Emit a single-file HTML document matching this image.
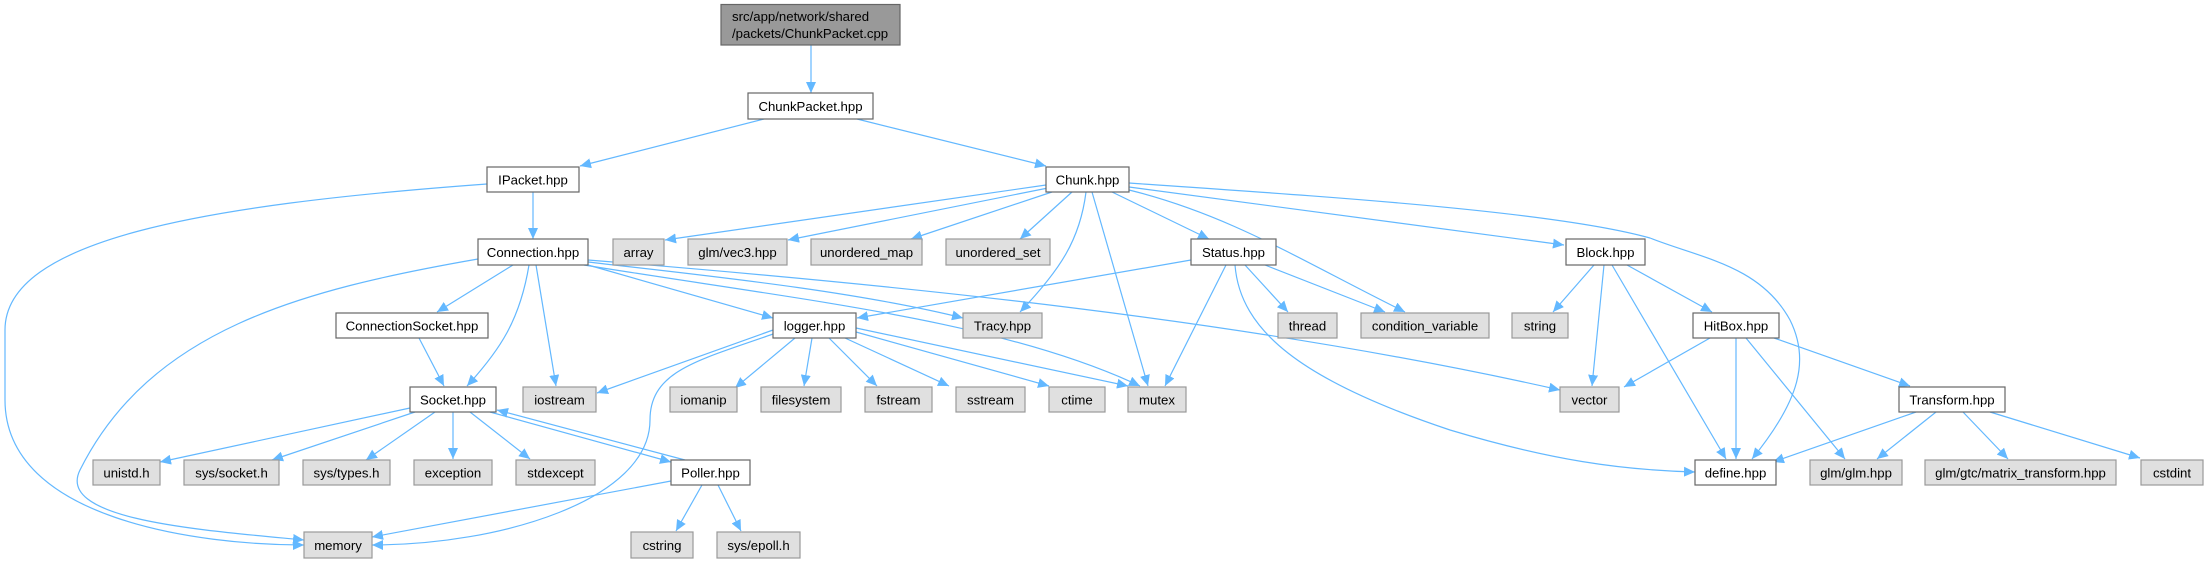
<!DOCTYPE html>
<html><head><meta charset="utf-8"><style>
html,body{margin:0;padding:0;background:#fff;}
svg{display:block;}
text{font-family:"Liberation Sans",Helvetica,Arial,sans-serif;font-size:13.2px;fill:#000;}
</style></head><body>
<svg width="2208" height="564" viewBox="0 0 2208 564" xmlns="http://www.w3.org/2000/svg">
<defs>
<marker id="a" markerUnits="userSpaceOnUse" markerWidth="12" markerHeight="10" refX="11" refY="5" orient="auto">
<path d="M0,0 L11,5 L0,10 z" fill="#63b8ff"/>
</marker>
</defs>
<g fill="none" stroke="#63b8ff" stroke-width="1.2" marker-end="url(#a)">
<path d="M811,45 L811,93"/>
<path d="M764,119 L580,166"/>
<path d="M857,119 L1046,166"/>
<path d="M533,192 L533,239"/>
<path d="M487,184 C200,205 5,240 5,330 L5,400 C5,520 200,545 304,545"/>
<path d="M1046,185 L665,240"/>
<path d="M1048,188 L788,240"/>
<path d="M1052,192 L911,239"/>
<path d="M1072,192 L1020,239"/>
<path d="M1086,192 C1080,240 1060,270 1020,312"/>
<path d="M1092,192 L1148,386"/>
<path d="M1112,192 L1209,239"/>
<path d="M1129,190 C1230,215 1300,260 1405,312"/>
<path d="M1129,187 L1564,245"/>
<path d="M1129,183 C1300,195 1550,210 1650,238 C1700,258 1760,265 1790,320 C1810,360 1800,400 1752,459"/>
<path d="M478,259 C300,290 150,330 80,470 C55,520 200,530 304,540"/>
<path d="M513,265 L437,312"/>
<path d="M529,265 C520,320 500,350 467,386"/>
<path d="M536,265 L556,386"/>
<path d="M588,265 L773,318"/>
<path d="M588,262 C700,275 850,290 963,318"/>
<path d="M584,265 C800,300 1000,320 1140,386"/>
<path d="M588,260 C900,285 1250,320 1560,390"/>
<path d="M773,330 L597,393"/>
<path d="M773,334 C700,360 650,370 650,420 C650,500 500,545 372,545"/>
<path d="M795,338 L735,388"/>
<path d="M812,338 L804,386"/>
<path d="M829,338 L877,386"/>
<path d="M845,338 L949,386"/>
<path d="M856,332 L1049,386"/>
<path d="M856,328 L1128,386"/>
<path d="M1191,260 L857,318"/>
<path d="M1226,265 L1165,386"/>
<path d="M1245,265 L1288,312"/>
<path d="M1265,265 L1385,312"/>
<path d="M1235,265 C1240,330 1300,380 1450,430 C1550,460 1620,470 1695,472"/>
<path d="M1594,265 L1553,312"/>
<path d="M1604,265 L1592,386"/>
<path d="M1612,265 L1726,459"/>
<path d="M1627,265 L1712,312"/>
<path d="M1710,338 L1624,387"/>
<path d="M1736,338 L1736,459"/>
<path d="M1746,338 L1845,459"/>
<path d="M1774,338 L1910,386"/>
<path d="M1916,412 L1773,462"/>
<path d="M1936,412 L1877,459"/>
<path d="M1963,412 L2008,459"/>
<path d="M1990,412 L2140,458"/>
<path d="M419,338 L444,386"/>
<path d="M410,408 L160,462"/>
<path d="M415,412 L272,460"/>
<path d="M435,412 L366,460"/>
<path d="M453,412 L453,459"/>
<path d="M470,412 L530,459"/>
<path d="M490,412 L671,462"/>
<path d="M685,460 L497,410"/>
<path d="M671,481 L372,537"/>
<path d="M702,485 L676,531"/>
<path d="M718,485 L741,531"/>
</g>
<g stroke-width="1.2">
<rect x="721" y="4.5" width="179" height="40.5" fill="#999" stroke="#666"/>
<g stroke="#666" fill="#fff">
<rect x="748" y="93" width="125" height="26"/>
<rect x="487" y="167" width="92" height="25"/>
<rect x="1046" y="167" width="83" height="25"/>
<rect x="478" y="239" width="110" height="26"/>
<rect x="1191" y="239" width="85" height="26"/>
<rect x="1566" y="239" width="79" height="26"/>
<rect x="336" y="313" width="152" height="25"/>
<rect x="773" y="313" width="83" height="25"/>
<rect x="1693" y="313" width="86" height="25"/>
<rect x="410" y="387" width="86" height="25"/>
<rect x="1899" y="387" width="106" height="25"/>
<rect x="671" y="460" width="79" height="25"/>
<rect x="1695" y="460" width="81" height="25"/>
</g>
<g stroke="#999" fill="#e0e0e0">
<rect x="613" y="239" width="51" height="26"/>
<rect x="688" y="239" width="99" height="26"/>
<rect x="811" y="239" width="111" height="26"/>
<rect x="946" y="239" width="104" height="26"/>
<rect x="963" y="313" width="79" height="25"/>
<rect x="1278" y="313" width="59" height="25"/>
<rect x="1361" y="313" width="128" height="25"/>
<rect x="1512" y="313" width="56" height="25"/>
<rect x="523" y="387" width="73" height="25"/>
<rect x="670" y="387" width="67" height="25"/>
<rect x="761" y="387" width="80" height="25"/>
<rect x="865" y="387" width="67" height="25"/>
<rect x="956" y="387" width="69" height="25"/>
<rect x="1049" y="387" width="56" height="25"/>
<rect x="1128" y="387" width="58" height="25"/>
<rect x="1560" y="387" width="59" height="25"/>
<rect x="93" y="460" width="67" height="25"/>
<rect x="184" y="460" width="95" height="25"/>
<rect x="303" y="460" width="87" height="25"/>
<rect x="414" y="460" width="78" height="25"/>
<rect x="516" y="460" width="79" height="25"/>
<rect x="1810" y="460" width="92" height="25"/>
<rect x="1925" y="460" width="191" height="25"/>
<rect x="2141" y="460" width="62" height="25"/>
<rect x="304" y="532" width="68" height="26"/>
<rect x="631" y="532" width="62" height="26"/>
<rect x="717" y="532" width="83" height="26"/>
</g>
</g>
<text x="732" y="21">src/app/network/shared</text>
<text x="732" y="38">/packets/ChunkPacket.cpp</text>
<g text-anchor="middle">
<text x="810.5" y="111">ChunkPacket.hpp</text>
<text x="533" y="184.5">IPacket.hpp</text>
<text x="1087.5" y="184.5">Chunk.hpp</text>
<text x="533" y="257">Connection.hpp</text>
<text x="638.5" y="257">array</text>
<text x="737.5" y="257">glm/vec3.hpp</text>
<text x="866.5" y="257">unordered_map</text>
<text x="998" y="257">unordered_set</text>
<text x="1233.5" y="257">Status.hpp</text>
<text x="1605.5" y="257">Block.hpp</text>
<text x="412" y="330.5">ConnectionSocket.hpp</text>
<text x="814.5" y="330.5">logger.hpp</text>
<text x="1002.5" y="330.5">Tracy.hpp</text>
<text x="1307.5" y="330.5">thread</text>
<text x="1425" y="330.5">condition_variable</text>
<text x="1540" y="330.5">string</text>
<text x="1736" y="330.5">HitBox.hpp</text>
<text x="453" y="404.5">Socket.hpp</text>
<text x="559.5" y="404.5">iostream</text>
<text x="703.5" y="404.5">iomanip</text>
<text x="801" y="404.5">filesystem</text>
<text x="898.5" y="404.5">fstream</text>
<text x="990.5" y="404.5">sstream</text>
<text x="1077" y="404.5">ctime</text>
<text x="1157" y="404.5">mutex</text>
<text x="1589.5" y="404.5">vector</text>
<text x="1952" y="404.5">Transform.hpp</text>
<text x="126.5" y="477.5">unistd.h</text>
<text x="231.5" y="477.5">sys/socket.h</text>
<text x="346.5" y="477.5">sys/types.h</text>
<text x="453" y="477.5">exception</text>
<text x="555.5" y="477.5">stdexcept</text>
<text x="710.5" y="477.5">Poller.hpp</text>
<text x="1735.5" y="477.5">define.hpp</text>
<text x="1856" y="477.5">glm/glm.hpp</text>
<text x="2020.5" y="477.5">glm/gtc/matrix_transform.hpp</text>
<text x="2172" y="477.5">cstdint</text>
<text x="338" y="550">memory</text>
<text x="662" y="550">cstring</text>
<text x="758.5" y="550">sys/epoll.h</text>
</g>
</svg>
</body></html>
